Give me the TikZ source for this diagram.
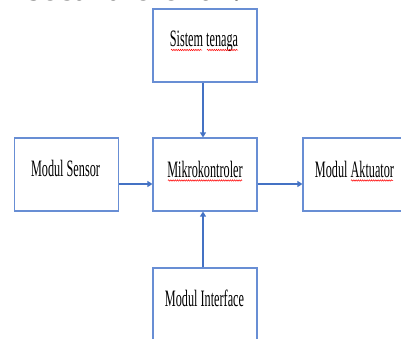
\documentclass[tikz,border=0pt]{standalone}
\usepackage{fontspec}
\setmainfont{Liberation Serif}
\newfontfamily\dfont[FakeStretch=0.52]{Liberation Serif}
\usetikzlibrary{arrows.meta,decorations.pathmorphing}
\definecolor{boxblue}{RGB}{104,142,212}
\definecolor{arrblue}{RGB}{68,114,196}
\begin{document}
\begin{tikzpicture}[x=1pt,y=-1pt,
  blk/.style={draw=boxblue,line width=1.2pt,minimum width=104pt,minimum height=73pt,inner sep=0pt},
  lbl/.style={font=\dfont\fontsize{23.5}{23.5}\selectfont,inner sep=0pt,anchor=base},
  arr/.style={draw=arrblue,line width=1.3pt,-{Triangle[length=5pt,width=6pt]}},
  spell/.style={draw=red,line width=0.5pt,decorate,decoration={snake,amplitude=0.7pt,segment length=2.2pt}}]
\useasboundingbox (0,0) rectangle (401,338);
\clip (0,0) rectangle (401,338);
\node[font=\bfseries\fontsize{36}{36}\selectfont,anchor=base west,inner sep=0pt] (head) at (-2,0.5) {n secara efektif.};
\node[blk] (pow) at (205,45.5) {};
\node[blk] (sen) at (66.5,174.5) {};
\node[blk] (mik) at (205,174.5) {};
\node[blk] (akt) at (355,174.5) {};
\node[blk] (itf) at (205,304.5) {};
\node[lbl] (tpow) at (204,46) {Sistem tenaga};
\node[lbl] (tsen) at (65.5,176) {Modul Sensor};
\node[lbl] (tmik) at (205,177) {Mikrokontroler};
\node[lbl] (takt) at (354.5,177) {Modul Aktuator};
\node[lbl] (titf) at (204.5,306) {Modul Interface};
\draw[arr] ([xshift=-2pt]pow.south) -- ([xshift=-2pt]mik.north);
\draw[arr] ([yshift=-9.5pt]sen.east) -- ([yshift=-9.5pt]mik.west);
\draw[arr] ([yshift=-9.5pt]mik.east) -- ([yshift=-9.5pt]akt.west);
\draw[arr] ([xshift=-2pt]itf.north) -- ([xshift=-2pt]mik.south);
\draw[spell] (171,50) -- (202,50);
\draw[spell] (207,50) -- (238,50);
\draw[spell] (168,180.5) -- (242,180.5);
\draw[spell] (351,180.5) -- (393,180.5);
\end{tikzpicture}
\end{document}
